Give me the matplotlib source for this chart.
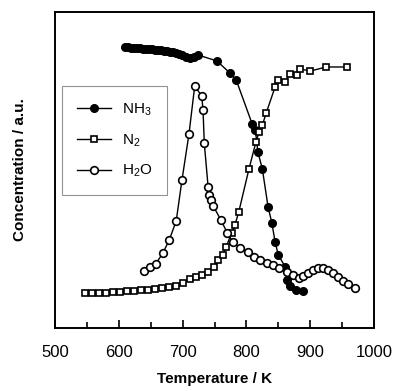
import matplotlib
matplotlib.use("Agg")
import matplotlib.pyplot as plt

plt.rcParams['font.family'] = ['Liberation Sans', 'DejaVu Sans']
plt.rcParams['mathtext.fontset'] = 'custom'
plt.rcParams['mathtext.rm'] = 'Liberation Sans'
plt.rcParams['mathtext.default'] = 'regular'

# NH3 (filled circles)
nh3_T = [610, 614, 619, 624, 628, 633, 638, 643, 647, 652, 657, 661, 666, 671, 676,
         680, 685, 690, 694, 699, 705, 712, 718, 724, 754, 774, 784, 809, 814, 818,
         825, 834, 840, 845, 850, 861, 864, 868, 878, 888]
nh3_c = [88.9, 88.9, 88.6, 88.6, 88.6, 88.6, 88.3, 88.3, 88.3, 88.3, 88.0, 88.0, 88.0, 87.7, 87.7,
         87.3, 87.3, 87.0, 86.7, 86.4, 85.8, 85.4, 85.8, 86.4, 84.5, 80.7, 78.5, 64.6, 62.7, 55.7,
         50.3, 38.3, 33.2, 27.2, 23.1, 19.3, 15.2, 13.3, 12.0, 11.7]

# N2 (open squares)
n2_T = [547, 558, 569, 580, 591, 602, 613, 624, 635, 646, 657, 668, 679, 690, 701,
        712, 721, 730, 740, 749, 755, 763, 768, 777, 782, 788, 804, 815, 820, 825,
        831, 845, 850, 861, 868, 879, 884, 900, 925, 958]
n2_c = [11.1, 11.1, 11.1, 11.1, 11.4, 11.4, 11.7, 11.7, 12.0, 12.0, 12.3, 12.7, 13.0, 13.3, 14.2,
        15.5, 16.1, 16.8, 17.7, 19.3, 21.5, 23.1, 25.6, 30.1, 32.6, 36.7, 50.3, 58.9, 62.0, 64.2,
        68.0, 76.3, 78.5, 77.8, 80.4, 80.1, 82.0, 81.3, 82.6, 82.6]

# H2O (open circles)
h2o_T = [640, 649, 658, 669, 679, 690, 699, 710, 719, 730, 732, 734, 740, 741, 745,
         748, 760, 770, 779, 790, 803, 812, 821, 832, 842, 851, 864, 873, 882, 889,
         897, 904, 912, 920, 928, 936, 944, 951, 959, 970]
h2o_c = [18.0, 19.3, 20.3, 23.7, 27.8, 33.9, 46.8, 61.4, 76.6, 73.4, 69.0, 58.5, 44.6, 42.1, 40.5,
         38.6, 34.2, 30.1, 27.2, 25.3, 24.1, 22.5, 21.5, 20.6, 19.9, 19.0, 17.7, 16.8, 15.8, 16.5,
         17.4, 18.4, 19.0, 19.0, 18.4, 17.4, 16.1, 14.9, 13.9, 12.7]

fig = plt.figure(figsize=(3.96, 3.91), dpi=100)
ax = fig.add_axes([55/396, 1-328/391, 319/396, 316/391])

ax.plot(nh3_T, nh3_c, '-o', color='black', lw=1, ms=5.5, mfc='black', mec='black', label='NH$_3$')
ax.plot(n2_T, n2_c, '-s', color='black', lw=1, ms=5, mfc='white', mec='black', mew=1.2, label='N$_2$')
ax.plot(h2o_T, h2o_c, '-o', color='black', lw=1, ms=5.5, mfc='white', mec='black', mew=1.2, label='H$_2$O')

ax.set_xlim(500, 1000)
ax.set_ylim(0, 100)
ax.set_xticks([500, 600, 700, 800, 900, 1000])
ax.set_xticks([550, 650, 750, 850, 950], minor=True)
ax.set_yticks([])
ax.tick_params(axis='x', which='major', direction='in', length=6, width=1.2, labelsize=12, pad=12)
ax.tick_params(axis='x', which='minor', direction='in', length=4, width=1.2)
for s in ax.spines.values():
    s.set_linewidth(1.4)

ax.set_xlabel('Temperature / K', fontsize=11, fontweight='bold', labelpad=9)
ax.set_ylabel('Concentration / a.u.', fontsize=11, fontweight='bold', labelpad=20)

leg = ax.legend(loc='upper left', bbox_to_anchor=(0.022, 0.766), borderaxespad=0,
                frameon=True, fancybox=False, edgecolor='#777777', fontsize=11,
                handlelength=2.2, borderpad=1.0, labelspacing=0.95, handletextpad=0.7)
leg.get_frame().set_linewidth(0.8)

fig.savefig('out.png', dpi=100)
